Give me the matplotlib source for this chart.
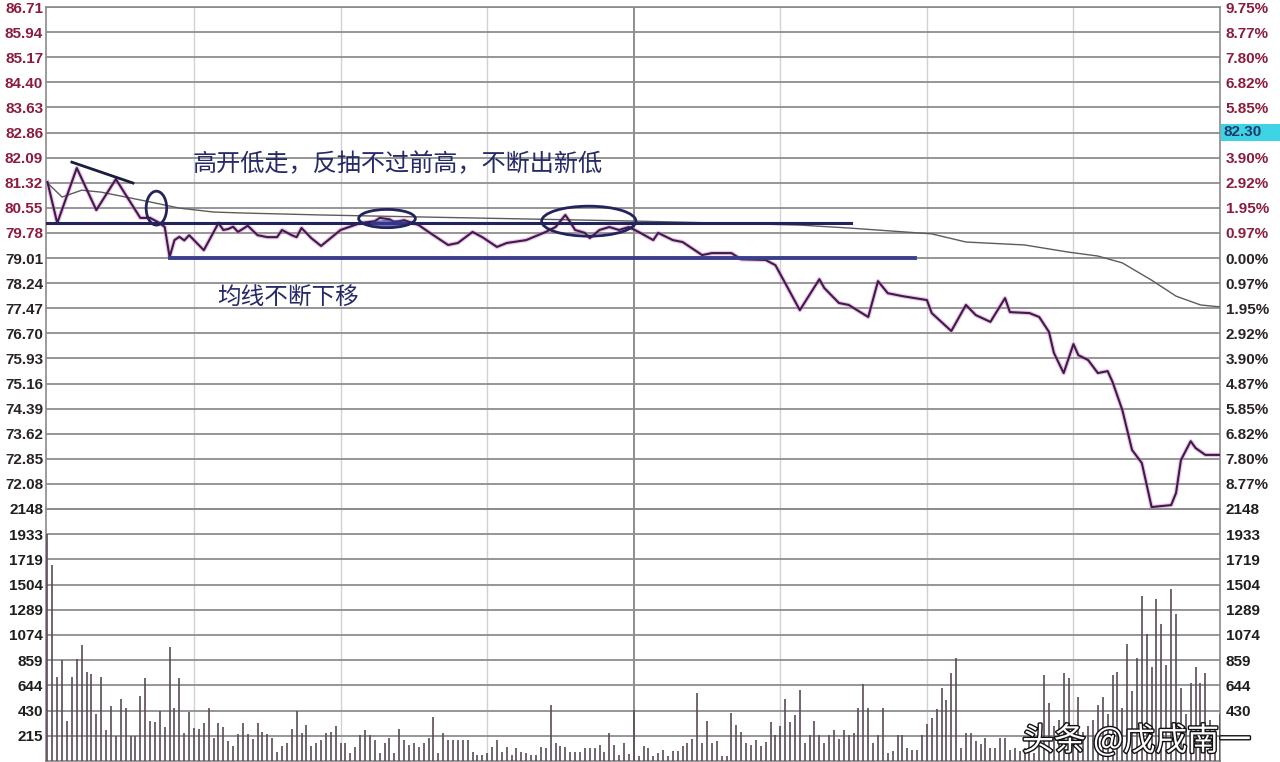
import matplotlib
matplotlib.use('Agg')
import matplotlib.pyplot as plt
from matplotlib.patches import Ellipse, Rectangle
import matplotlib.patheffects as pe

# ---------------- data ----------------
price_ticks = [86.71, 85.94, 85.17, 84.40, 83.63, 82.86, 82.09, 81.32, 80.55, 79.78,
               79.01, 78.24, 77.47, 76.70, 75.93, 75.16, 74.39, 73.62, 72.85, 72.08]
price_labels = ["86.71", "85.94", "85.17", "84.40", "83.63", "82.86", "82.09", "81.32", "80.55", "79.78",
                "79.01", "78.24", "77.47", "76.70", "75.93", "75.16", "74.39", "73.62", "72.85", "72.08"]
pct_labels = ["9.75%", "8.77%", "7.80%", "6.82%", "5.85%", "", "3.90%", "2.92%", "1.95%", "0.97%",
              "0.00%", "0.97%", "1.95%", "2.92%", "3.90%", "4.87%", "5.85%", "6.82%", "7.80%", "8.77%"]
prev_close = 79.01
price_min, price_max = 71.31, 86.71
vol_ticks = [2148, 1933, 1719, 1504, 1289, 1074, 859, 644, 430, 215]
vol_labels_right = ["2148", "1933", "1719", "1504", "1289", "1074", "859", "644", "430", ""]

price_t = [0, 2, 6, 10, 14, 19, 21, 23, 24, 25, 26, 27, 28, 29, 32, 35, 36, 37, 38, 39, 41, 43, 45,
           47, 48, 50, 51, 52, 54, 56, 60, 64, 67, 68, 70, 71, 73, 76, 78, 82, 84, 87, 89, 92, 94,
           98, 102, 104, 106, 107, 108, 110, 111, 113, 115, 117, 119, 121, 124, 125, 128, 130, 134,
           136, 140, 142, 147, 149, 151, 154, 158, 159, 162, 164, 168, 170, 172, 175, 180, 181, 185,
           188, 190, 193, 196, 197, 201, 203, 205, 206, 208, 210, 211, 213, 215, 217, 218, 220, 222,
           224, 226, 230, 231, 232, 234, 235, 237, 240]
price_v = [81.34, 80.08, 81.77, 80.48, 81.43, 80.24, 80.24, 80.08, 79.96, 79.04, 79.56, 79.66, 79.55,
           79.71, 79.25, 80.08, 79.87, 79.90, 79.97, 79.81, 80.00, 79.71, 79.65, 79.65, 79.87, 79.71,
           79.65, 79.93, 79.62, 79.38, 79.87, 80.08, 80.14, 80.24, 80.20, 80.11, 80.17, 80.02, 79.81,
           79.41, 79.47, 79.81, 79.65, 79.35, 79.47, 79.56, 79.81, 79.96, 80.33, 80.11, 79.87, 79.78,
           79.62, 79.87, 79.96, 79.87, 79.96, 79.81, 79.56, 79.78, 79.56, 79.50, 79.10, 79.16, 79.16,
           78.97, 78.95, 78.79, 78.24, 77.41, 78.36, 78.09, 77.63, 77.57, 77.20, 78.30, 77.93, 77.84,
           77.72, 77.32, 76.77, 77.57, 77.26, 77.05, 77.78, 77.35, 77.32, 77.20, 76.74, 76.10, 75.48,
           76.37, 76.03, 75.88, 75.48, 75.54, 75.21, 74.35, 73.12, 72.72, 71.37, 71.43, 71.80, 72.81,
           73.39, 73.18, 72.97, 72.97]

avg_t = [0, 3, 7, 11, 16, 21, 27, 34, 40, 56, 76, 97, 121, 138, 154, 164, 181, 188, 200, 209,
         215, 220, 226, 231, 236, 240]
avg_v = [81.31, 80.88, 81.09, 81.03, 80.88, 80.73, 80.54, 80.42, 80.39, 80.33, 80.27, 80.21, 80.14,
         80.08, 80.02, 79.93, 79.75, 79.50, 79.41, 79.19, 79.07, 78.86, 78.33, 77.84, 77.57, 77.51]

volume = [1933, 1670, 720, 865, 340, 720, 870, 990, 760, 740, 400, 720, 260, 470, 215, 530, 450, 215,
          215, 550, 710, 340, 330, 430, 290, 970, 450, 710, 240, 420, 280, 270, 320, 450, 200, 320,
          290, 170, 130, 230, 320, 230, 190, 320, 250, 230, 200, 80, 130, 150, 270, 430, 240, 310,
          130, 150,
          180, 240, 250, 300, 155, 155, 70, 120, 225, 265, 225, 180, 70, 155, 200, 70, 275, 175, 140,
          150, 120, 155, 200, 375, 70, 240, 180, 180, 180, 180, 180, 75, 55, 55, 70, 120, 175, 80,
          120, 55, 110, 80, 70, 55, 55, 120, 110, 480, 155, 130, 120, 80, 80, 80, 110, 110, 110, 140,
          80, 240, 140, 55, 155, 60, 435, 40,
          125, 110, 40, 68, 96, 40, 82, 82, 125, 153, 187, 580, 153, 345, 153, 167, 40, 40, 410, 310,
          245, 153, 139, 181, 125, 158, 330, 225, 295, 530, 330, 395, 605, 153, 225, 345, 225, 153,
          223, 265, 187, 265, 223, 238, 450, 655, 450, 153, 223, 455, 68, 82, 223, 223, 110, 96, 96,
          223, 315, 365, 440, 620, 520, 750, 880, 110, 240, 240, 167, 147, 195, 110, 110, 195, 195,
          96, 110, 82, 110, 195,
          70, 200, 730, 495, 300, 350, 750, 705, 280, 545, 250, 300, 350, 480, 545, 400, 730, 755,
          450, 1000, 600, 875, 1410, 1085, 800, 1380, 1170, 815, 1470, 1255, 620, 400, 665, 800,
          665, 750, 350, 300, 400]
minutes = list(range(len(volume)))

title_text = "高开低走，反抽不过前高，不断出新低"
note_text = "均线不断下移"
watermark = "头条 @戊戌南一"
last_price_label = "82.30"

# ---------------- layout ----------------
W, H = 1280, 762
L, R = 46, 1220
T_P, B_P, B_V = 7, 509, 761

def fx(px):
    return px / W

def fy(py):
    return 1 - py / H

fig = plt.figure(figsize=(12.8, 7.62), dpi=100)
fig.patch.set_facecolor('white')
axp = fig.add_axes([fx(L), fy(B_P), (R - L) / W, (B_P - T_P) / H])
axv = fig.add_axes([fx(L), fy(B_V), (R - L) / W, (B_V - B_P) / H])

XMIN, XMAX = -0.3, 240.0
grid_col = '#8e8e8e'
up_col = '#8b1c3c'
dn_col = '#2a2228'
lab_font = dict(family='Liberation Sans', weight='bold', size=11)

for ax in (axp, axv):
    ax.set_xlim(XMIN, XMAX)
    ax.set_xticks([])
    ax.set_facecolor('white')
    for s in ax.spines.values():
        s.set_color('#8a8a8a')
        s.set_linewidth(1.2)
    for m in [30, 60, 90, 120, 150, 180, 210]:
        if m == 120:
            ax.axvline(m, color='#7a7a7a', lw=1.2, zorder=1)
        else:
            ax.axvline(m, color='#d2d2d2', lw=1.0, zorder=1)

# ---- price panel ----
axp.set_ylim(price_min, price_max)
for p in price_ticks:
    axp.axhline(p, color=grid_col, lw=1.3, zorder=1)
axp.set_yticks(price_ticks)
axp.set_yticklabels(price_labels, fontdict=lab_font)
axp.tick_params(axis='y', length=0, pad=2)
for lab, p in zip(axp.get_yticklabels(), price_ticks):
    lab.set_color(up_col if p > prev_close + 0.001 else dn_col)

axr = axp.twinx()
axr.set_ylim(price_min, price_max)
axr.set_yticks(price_ticks)
axr.set_yticklabels(pct_labels, fontdict=lab_font)
axr.tick_params(axis='y', length=0, pad=4)
for lab, p in zip(axr.get_yticklabels(), price_ticks):
    lab.set_color(up_col if p > prev_close + 0.001 else dn_col)
for s in axr.spines.values():
    s.set_visible(False)

# price & average lines
axp.plot(price_t, price_v, color='#d77ad0', lw=3.2, alpha=0.45, zorder=3, solid_joinstyle='round')
axp.plot(price_t, price_v, color='#3e1c48', lw=1.5, zorder=4, solid_joinstyle='round')
axp.plot(avg_t, avg_v, color='#5c5c5c', lw=1.0, zorder=3)

# annotation lines and ellipses
navy = '#23235e'
axp.plot([XMIN, 164.5], [80.08, 80.08], color=navy, lw=2.2, zorder=5)
axp.plot([25.0, 177.5], [79.01, 79.01], color='#3a3f8c', lw=2.8, zorder=5)
axp.plot([5.0, 17.5], [81.95, 81.31], color='#1c1c3c', lw=2.0, zorder=5)
axp.add_patch(Ellipse((22.3, 80.54), 4.2, 1.04, fill=False, ec=navy, lw=2.0, zorder=6))
axp.add_patch(Ellipse((69.5, 80.22), 11.6, 0.56, fill=False, ec=navy, lw=2.0, zorder=6))
axp.add_patch(Ellipse((70.0, 80.07), 8.0, 0.22, fc='#3a3f9c', ec='none', alpha=0.7, zorder=5))
axp.add_patch(Ellipse((110.8, 80.14), 19.3, 0.92, fill=False, ec=navy, lw=2.0, zorder=6))

cjk = ['Noto Sans CJK SC', 'DejaVu Sans']
axp.text(29.8, 81.90, title_text, family=cjk, fontsize=17.4, color='#262a66',
         va='center', ha='left', zorder=7)
axp.text(34.8, 77.80, note_text, family=cjk, fontsize=17.0, color='#262a66',
         va='center', ha='left', zorder=7)

# ---- volume panel ----
axv.set_ylim(0, 2148)
for v in vol_ticks:
    axv.axhline(v, color=grid_col, lw=1.3, zorder=1)
axv.set_yticks(vol_ticks)
axv.set_yticklabels([str(v) for v in vol_ticks], fontdict=lab_font, color='#1e1e1e')
axv.tick_params(axis='y', length=0, pad=2)
axv2 = axv.twinx()
axv2.set_ylim(0, 2148)
axv2.set_yticks(vol_ticks)
axv2.set_yticklabels(vol_labels_right, fontdict=lab_font, color='#1e1e1e')
axv2.tick_params(axis='y', length=0, pad=4)
for s in axv2.spines.values():
    s.set_visible(False)
axv.vlines(minutes, 0, volume, color='#594a58', lw=1.2, zorder=3)

# cyan last-price box on the right
fig.patches.append(Rectangle((fx(1221), fy(141)), 59 / W, 17 / H, transform=fig.transFigure,
                             facecolor='#3fd3e6', edgecolor='none', zorder=10))
fig.text(fx(1223), fy(132.5), last_price_label, fontsize=11, family='Liberation Sans',
         weight='bold', color='#1b3a6a', va='center', ha='left', zorder=11)

# watermark
fig.text(fx(1022), fy(741), watermark, family=cjk, fontsize=23, color='white', va='center',
         ha='left', zorder=20,
         path_effects=[pe.withStroke(linewidth=2.0, foreground='#111111')])

fig.savefig('out.png', dpi=100, facecolor='white')
